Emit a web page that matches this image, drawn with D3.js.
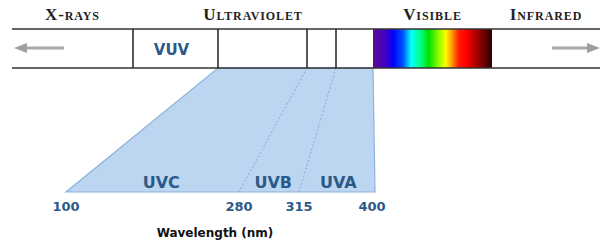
<!DOCTYPE html>
<html>
<head>
<meta charset="utf-8">
<script src="https://cdn.jsdelivr.net/npm/d3@7"></script>
<style>
  body { margin: 0; background: #fff; }
  svg { display: block; }
</style>
</head>
<body>
<div id="chart"></div>
<script>
// regions across the top bar (wavelength in nm)
var regionNames = ["X-rays", "Ultraviolet", "Visible", "Infrared"];
var regionBounds = [[1, 10], [10, 400], [400, 700], [700, 1000]];
var dividers = [10, 100, 280, 315];
var vuvRange = [10, 100];

// UV bands under the bar
var bandNames = ["UVC", "UVB", "UVA"];
var bandBounds = [[100, 280], [280, 315], [315, 400]];
var tickValues = [100, 280, 315, 400];

// visible spectrum colours (offset, colour)
var spectrumOffsets = [0, 0.11, 0.17, 0.25, 0.32, 0.40, 0.47, 0.57, 0.61, 0.66, 0.72, 0.78, 0.88, 1];
var spectrumColors = ["#5e0a92", "#3d00c4", "#0000ff", "#0050ff", "#00ffff", "#00ff80", "#00e000",
                      "#b0ff00", "#ffff00", "#ffa000", "#ff2000", "#ff0000", "#a00000", "#2a0000"];

var svgWidth = 600;
var svgHeight = 245;

var barTop = 29, barBottom = 68, baseY = 192;

var svg = d3.select("#chart").append("svg")
            .attr("width", svgWidth)
            .attr("height", svgHeight);

var topX = d3.scaleLinear()
             .domain([1, 10, 100, 280, 315, 400, 700, 1000])
             .range([12, 133, 218, 307, 336, 373, 492, 600]);

var bottomX = d3.scaleLinear()
                .domain([100, 280, 315, 400])
                .range([66, 239, 299, 375]);

var blue = "#2b5a88";

// gradient for visible light
var grad = svg.append("defs").append("linearGradient")
              .attr("id", "spectrum")
              .attr("x1", "0%").attr("x2", "100%");
grad.selectAll("stop")
    .data(spectrumOffsets)
    .enter()
    .append("stop")
    .attr("offset", d => d)
    .attr("stop-color", (d, i) => spectrumColors[i]);

// trapezoid for UV range
svg.append("path")
   .attr("d", d3.line()([
      [topX(100), barBottom], [topX(400), barBottom],
      [bottomX(400), baseY], [bottomX(100), baseY]]) + "Z")
   .attr("fill", "#bcd6f1")
   .attr("stroke", "#8eb2da")
   .attr("stroke-width", 1.2);

// dashed band separators
svg.selectAll(".sep")
   .data([280, 315])
   .enter()
   .append("line")
   .attr("x1", d => topX(d))
   .attr("y1", barBottom)
   .attr("x2", d => bottomX(d))
   .attr("y2", baseY)
   .attr("stroke", "#7f9cbf")
   .attr("stroke-width", 0.8)
   .attr("stroke-dasharray", "2,2");

// band labels, placed between the slanted edges near the base
var t = 0.92;
function edgeAt(v) { return topX(v) + (bottomX(v) - topX(v)) * t; }
svg.selectAll(".band")
   .data(bandNames)
   .enter()
   .append("text")
   .attr("x", (d, i) => (edgeAt(bandBounds[i][0]) + edgeAt(bandBounds[i][1])) / 2)
   .attr("y", 188)
   .attr("text-anchor", "middle")
   .attr("font-family", "DejaVu Sans")
   .attr("font-weight", "bold")
   .attr("font-size", 16)
   .attr("fill", blue)
   .text(d => d);

// tick labels
svg.selectAll(".tick")
   .data(tickValues)
   .enter()
   .append("text")
   .attr("x", d => bottomX(d) - (d === 400 ? 3 : 0))
   .attr("y", 211)
   .attr("text-anchor", "middle")
   .attr("font-family", "DejaVu Sans")
   .attr("font-weight", "bold")
   .attr("font-size", 13)
   .attr("fill", blue)
   .text(d => d);

svg.append("text")
   .attr("x", 215)
   .attr("y", 237)
   .attr("text-anchor", "middle")
   .attr("font-family", "DejaVu Sans")
   .attr("font-weight", "bold")
   .attr("font-size", 12)
   .attr("fill", "#111")
   .text("Wavelength (nm)");

// visible spectrum
svg.append("rect")
   .attr("x", topX(400))
   .attr("y", barTop)
   .attr("width", topX(700) - topX(400))
   .attr("height", barBottom - barTop)
   .attr("fill", "url(#spectrum)");

// bar outline
[barTop, barBottom].forEach(y => {
  svg.append("line")
     .attr("x1", 12).attr("x2", 600)
     .attr("y1", y).attr("y2", y)
     .attr("stroke", "#333")
     .attr("stroke-width", 1.5);
});

svg.selectAll(".div")
   .data(dividers)
   .enter()
   .append("line")
   .attr("x1", d => topX(d)).attr("x2", d => topX(d))
   .attr("y1", barTop).attr("y2", barBottom)
   .attr("stroke", "#222")
   .attr("stroke-width", 1.5);

svg.append("text")
   .attr("x", (topX(vuvRange[0]) + topX(vuvRange[1])) / 2 - 4)
   .attr("y", 55)
   .attr("text-anchor", "middle")
   .attr("font-family", "DejaVu Sans")
   .attr("font-weight", "bold")
   .attr("font-size", 15)
   .attr("fill", blue)
   .text("VUV");

// arrows
var midY = (barTop + barBottom) / 2 - 0.5;
svg.append("line")
   .attr("x1", 24).attr("x2", 64).attr("y1", midY).attr("y2", midY)
   .attr("stroke", "#a8a8a8").attr("stroke-width", 3);
svg.append("path")
   .attr("d", d3.line()([[14, midY], [27, midY - 5], [27, midY + 5]]) + "Z")
   .attr("fill", "#a0a0a0");
svg.append("line")
   .attr("x1", 552).attr("x2", 590).attr("y1", midY).attr("y2", midY)
   .attr("stroke", "#a8a8a8").attr("stroke-width", 3);
svg.append("path")
   .attr("d", d3.line()([[600, midY], [587, midY - 5], [587, midY + 5]]) + "Z")
   .attr("fill", "#a0a0a0");

// region headings
svg.selectAll(".head")
   .data(regionNames)
   .enter()
   .append("text")
   .attr("x", (d, i) => (topX(regionBounds[i][0]) + topX(regionBounds[i][1])) / 2)
   .attr("y", 20)
   .attr("text-anchor", "middle")
   .attr("font-family", "Liberation Serif")
   .attr("font-weight", "bold")
   .attr("font-size", 17)
   .style("font-variant", "small-caps")
   .style("letter-spacing", "0.9px")
   .attr("fill", "#222")
   .text(d => d);
</script>
</body>
</html>
